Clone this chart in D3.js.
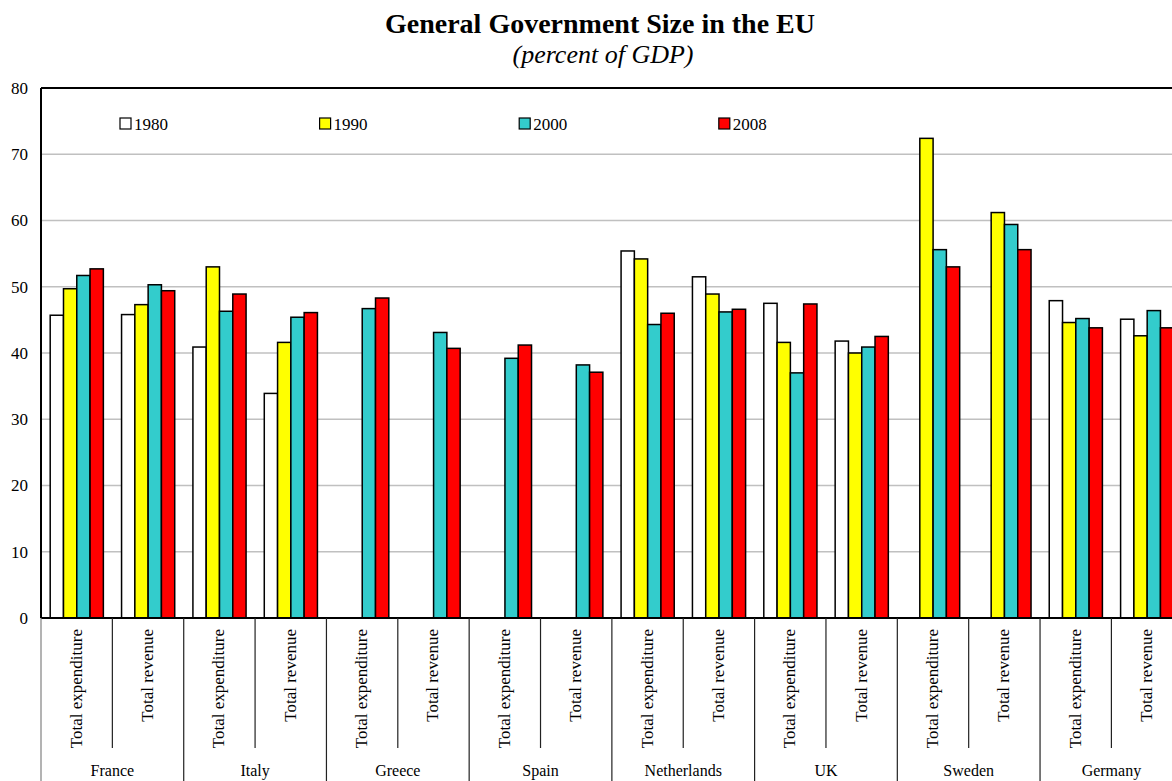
<!DOCTYPE html>
<html><head><meta charset="utf-8">
<script src="https://cdn.jsdelivr.net/npm/d3@7"></script>
<style>body{margin:0;background:#fff;overflow:hidden}</style>
</head><body>
<svg id="c" width="1172" height="781"></svg>
<script>
const countries = ["France","Italy","Greece","Spain","Netherlands","UK","Sweden","Germany"];
const measures = ["Total expenditure","Total revenue"];
const years = ["1980","1990","2000","2008"];
const colors = ["#ffffff","#ffff00","#33cccc","#ff0000"];
const yTicks = [0,10,20,30,40,50,60,70,80];
// values per sub-category (country × measure), in year order 1980,1990,2000,2008
const v1980 = [45.7,45.8, 40.9,33.9, null,null, null,null, 55.4,51.5, 47.5,41.8, null,null, 47.9,45.1];
const v1990 = [49.7,47.3, 53.0,41.6, null,null, null,null, 54.2,48.9, 41.6,40.0, 72.4,61.2, 44.6,42.6];
const v2000 = [51.7,50.3, 46.3,45.4, 46.7,43.1, 39.2,38.2, 44.3,46.2, 37.0,40.9, 55.6,59.4, 45.2,46.4];
const v2008 = [52.7,49.4, 48.9,46.1, 48.3,40.7, 41.2,37.1, 46.0,46.6, 47.4,42.5, 53.0,55.6, 43.8,43.8];
const series = [v1980,v1990,v2000,v2008];

const subs = [];
countries.forEach(c => measures.forEach(m => subs.push(c + "|" + m)));

const svg = d3.select("#c");
const font = "'Times New Roman','Liberation Serif',serif";
const L = 41, T = 88, B = 618, step = 71.36;
const R = L + step * subs.length;

const x = d3.scaleBand().domain(subs).range([L, R]).padding(0);
const xi = d3.scaleBand().domain(years).range([9.2, step - 9.0]).padding(0);
const y = d3.scaleLinear().domain([0, 80]).range([B, T]);

// title
svg.append("text").attr("x", 600).attr("y", 33).attr("text-anchor", "middle")
  .attr("font-family", font).attr("font-weight", "bold").attr("font-size", 28)
  .text("General Government Size in the EU");
svg.append("text").attr("x", 603).attr("y", 63).attr("text-anchor", "middle")
  .attr("font-family", font).attr("font-style", "italic").attr("font-size", 26)
  .text("(percent of GDP)");

// gridlines
svg.append("g").selectAll("line").data(yTicks.filter(t => t > 0 && t < 80)).join("line")
  .attr("x1", L).attr("x2", R).attr("y1", d => y(d)).attr("y2", d => y(d))
  .attr("stroke", "#c0c0c0").attr("stroke-width", 1.5);

// y axis
const ya = svg.append("g").attr("transform", `translate(${L},0)`)
  .call(d3.axisLeft(y).tickValues(yTicks).tickSize(0).tickPadding(13));
ya.select(".domain").remove();
ya.selectAll("text").attr("font-family", font).attr("font-size", 17).attr("fill", "#000");

// bars
const g = svg.append("g");
series.forEach((vals, si) => {
  g.append("g").selectAll("rect").data(vals.map((v, i) => ({v, s: subs[i]})).filter(d => d.v != null))
    .join("rect")
    .attr("x", d => x(d.s) + xi(years[si]))
    .attr("width", xi.bandwidth())
    .attr("y", d => y(d.v))
    .attr("height", d => y(0) - y(d.v))
    .attr("fill", colors[si]).attr("stroke", "#000").attr("stroke-width", 1.5);
});

// frame: top, left, baseline
svg.append("line").attr("x1", L).attr("x2", R).attr("y1", T).attr("y2", T).attr("stroke", "#000").attr("stroke-width", 2);
svg.append("line").attr("x1", L).attr("x2", L).attr("y1", T).attr("y2", B).attr("stroke", "#000").attr("stroke-width", 2);
svg.append("line").attr("x1", L).attr("x2", R).attr("y1", B).attr("y2", B).attr("stroke", "#000").attr("stroke-width", 2);

// legend
const lg = svg.append("g");
years.forEach((yr, i) => {
  const lx = 120 + i * 199.6;
  lg.append("rect").attr("x", lx).attr("y", 118).attr("width", 11).attr("height", 11)
    .attr("fill", colors[i]).attr("stroke", "#000").attr("stroke-width", 1.2);
  lg.append("text").attr("x", lx + 14).attr("y", 130).attr("font-family", font).attr("font-size", 17).text(yr);
});

// category axis: separators
const sepG = svg.append("g");
subs.forEach((s, i) => {
  const xs = x(s);
  if (i % 2 === 0) {
    sepG.append("line").attr("x1", xs).attr("x2", xs).attr("y1", B).attr("y2", 781)
      .attr("stroke", i === 0 ? "#808080" : "#222").attr("stroke-width", 1.2);
  } else {
    sepG.append("line").attr("x1", xs).attr("x2", xs).attr("y1", B).attr("y2", 748)
      .attr("stroke", "#222").attr("stroke-width", 1.2);
  }
});
// sub labels
svg.append("g").selectAll("text").data(subs).join("text")
  .attr("transform", d => `translate(${x(d) + step / 2 - 1},629) rotate(-90)`)
  .attr("text-anchor", "end").attr("dy", "0.35em")
  .attr("font-family", font).attr("font-size", 17)
  .text(d => d.split("|")[1]);
// country labels
svg.append("g").selectAll("text").data(countries).join("text")
  .attr("x", d => x(d + "|" + measures[0]) + step)
  .attr("y", 776).attr("text-anchor", "middle")
  .attr("font-family", font).attr("font-size", 16)
  .text(d => d);
</script>
</body></html>
